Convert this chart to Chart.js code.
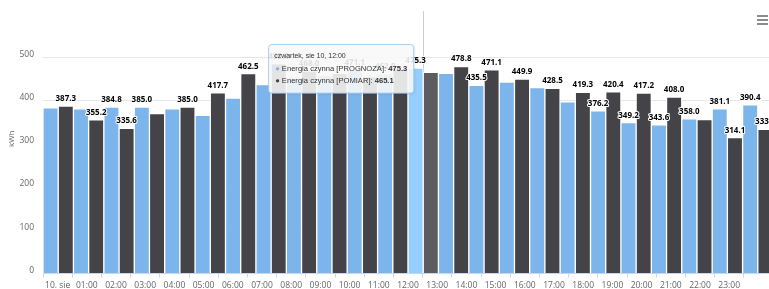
<!DOCTYPE html>
<html><head><meta charset="utf-8">
<script src="https://cdn.jsdelivr.net/npm/chart.js@4.4.1/dist/chart.umd.min.js"></script>
<style>
html,body{margin:0;padding:0;background:#fff;overflow:hidden;width:769px;height:289px}
#wrap{position:relative;width:790px;height:289px}
</style></head><body>
<div id="wrap"><canvas id="c" width="790" height="289"></canvas></div>
<script>
const HOURS = ['00:00','01:00','02:00','03:00','04:00','05:00','06:00','07:00','08:00','09:00','10:00','11:00','12:00','13:00','14:00','15:00','16:00','17:00','18:00','19:00','20:00','21:00','22:00','23:00'];
const X_TICK_LABELS = ['10. sie','01:00','02:00','03:00','04:00','05:00','06:00','07:00','08:00','09:00','10:00','11:00','12:00','13:00','14:00','15:00','16:00','17:00','18:00','19:00','20:00','21:00','22:00','23:00'];
const Y_TICKS = [0,100,200,300,400,500];
const PROGNOZA = [383,381,384.8,385.0,381,366,405.7,437,452,458,471.1,462,475.3,463,435.5,442.7,430,397,376.2,349.2,343.6,358.0,381.1,390.4];
const POMIAR   = [387.3,355.2,335.6,370,385.0,417.7,462.5,485,468,463,455,472,465.1,478.8,471.1,449.9,428.5,419.3,420.4,417.2,408.0,356,314.1,333.5];
const SERIES_NAMES = ['Energia czynna [PROGNOZA]','Energia czynna [POMIAR]'];
const TOOLTIP_TITLE = 'czwartek, sie 10, 12:00';
const ACTIVE_INDEX = 12;
const Y_TITLE = 'kWh';

const FONT = '"Open Sans", "Liberation Sans", sans-serif';
const TT_FONT = '"Liberation Sans", Arial, sans-serif';
const COLORS = ['#7cb5ec','#434348'];
const HOVER = ['#95ceff','#5c5c61'];

const extrasPlugin = {
  id:'extras',
  beforeDatasetsDraw(chart){
    const ctx = chart.ctx, a = chart.chartArea;
    const x = chart.scales.x.getPixelForValue(ACTIVE_INDEX);
    ctx.save();
    ctx.strokeStyle = '#cccccc'; ctx.lineWidth = 1;
    ctx.beginPath(); ctx.moveTo(Math.round(x)+0.5, a.top - 3); ctx.lineTo(Math.round(x)+0.5, a.bottom); ctx.stroke();
    ctx.restore();
  },
  afterDatasetsDraw(chart){
    const ctx = chart.ctx;
    const items = [];
    chart.data.datasets.forEach((ds, di) => {
      const meta = chart.getDatasetMeta(di);
      meta.data.forEach((bar, i) => {
        const v = ds.data[i];
        items.push({x: bar.x, y: bar.y, v, text: v.toFixed(1)});
      });
    });
    ctx.save();
    ctx.font = 'bold 8px ' + FONT;
    items.forEach(it => { it.w = ctx.measureText(it.text).width; });
    const sorted = items.slice().sort((p, q) => q.v - p.v);
    const shown = [];
    const H = 12.4;
    sorted.forEach(it => {
      const ok = shown.every(s => Math.abs(s.x - it.x) >= (s.w + it.w) / 2 || Math.abs(s.y - it.y) >= H);
      if (ok) shown.push(it);
    });
    ctx.textAlign = 'center'; ctx.textBaseline = 'alphabetic';
    ctx.lineJoin = 'round';
    shown.forEach(it => {
      ctx.strokeStyle = '#ffffff'; ctx.lineWidth = 2;
      ctx.strokeText(it.text, it.x, it.y - 5);
      ctx.fillStyle = '#000000';
      ctx.fillText(it.text, it.x, it.y - 5);
    });
    ctx.restore();
  },
  afterDraw(chart){
    const ctx = chart.ctx, a = chart.chartArea;
    ctx.save();
    ctx.translate(12, (a.top + a.bottom) / 2 - 5);
    ctx.rotate(-Math.PI/2);
    ctx.font = '8px ' + FONT; ctx.fillStyle = '#666666';
    ctx.textAlign = 'center'; ctx.textBaseline = 'middle';
    ctx.fillText(Y_TITLE, 0, 0);
    ctx.restore();

    ctx.save();
    ctx.strokeStyle = '#666666'; ctx.lineWidth = 1.5;
    [16, 20, 24].forEach(y => { ctx.beginPath(); ctx.moveTo(757, y); ctx.lineTo(768, y); ctx.stroke(); });
    ctx.restore();

    const xs = chart.scales.x.getPixelForValue(ACTIVE_INDEX);
    ctx.save();
    const titleFont = '7px ' + TT_FONT, rowFont = '7.6px ' + TT_FONT, boldFont = 'bold 7.6px ' + TT_FONT;
    const rows = chart.data.datasets.map((ds, i) => ({name: ds.label + ': ', val: ds.data[ACTIVE_INDEX].toFixed(1), color: COLORS[i]}));
    ctx.font = titleFont;
    let w = ctx.measureText(TOOLTIP_TITLE).width;
    rows.forEach(r => {
      ctx.font = rowFont; const w1 = ctx.measureText('● ' + r.name).width;
      ctx.font = boldFont; const w2 = ctx.measureText(r.val).width;
      w = Math.max(w, w1 + w2);
    });
    const bw = w + 13, bh = 48.5;
    const bx = xs - 10 - bw, by = a.top + 30;
    ctx.beginPath();
    ctx.roundRect(bx + 0.5, by + 0.5, bw, bh, 3);
    ctx.shadowColor = 'rgba(0,0,0,0.12)'; ctx.shadowOffsetX = 1; ctx.shadowOffsetY = 1; ctx.shadowBlur = 3;
    ctx.fillStyle = 'rgba(252,252,252,0.88)';
    ctx.fill();
    ctx.shadowColor = 'transparent';
    ctx.strokeStyle = '#a9cdef'; ctx.lineWidth = 1; ctx.stroke();
    ctx.textBaseline = 'middle'; ctx.textAlign = 'left';
    ctx.font = titleFont; ctx.fillStyle = '#333333';
    ctx.fillText(TOOLTIP_TITLE, bx + 6, by + 12);
    rows.forEach((r, i) => {
      const y = by + 24.5 + i * 12;
      ctx.font = rowFont;
      ctx.fillStyle = r.color; ctx.fillText('●', bx + 7, y);
      const bw0 = ctx.measureText('● ').width;
      ctx.fillStyle = '#333333'; ctx.fillText(r.name, bx + 7 + bw0, y);
      const nw = ctx.measureText(r.name).width;
      ctx.font = boldFont; ctx.fillText(r.val, bx + 7 + bw0 + nw, y);
    });
    ctx.restore();
  }
};

new Chart(document.getElementById('c'), {
  type: 'bar',
  data: {
    labels: HOURS,
    datasets: [
      {label: SERIES_NAMES[0], data: PROGNOZA, backgroundColor: c => c.dataIndex === ACTIVE_INDEX ? HOVER[0] : COLORS[0], borderColor: '#ffffff', borderWidth: 1, xAxisID: 'x', yAxisID: 'y'},
      {label: SERIES_NAMES[1], data: POMIAR, backgroundColor: c => c.dataIndex === ACTIVE_INDEX ? HOVER[1] : COLORS[1], borderColor: '#ffffff', borderWidth: 1, xAxisID: 'x', yAxisID: 'y'}
    ]
  },
  options: {
    responsive: false, animation: false, events: [],
    layout: {padding: {left: 0, right: 17, top: 13.5, bottom: 0}},
    datasets: {bar: {categoryPercentage: 1, barPercentage: 1}},
    plugins: {legend: {display: false}, tooltip: {enabled: false}},
    scales: {
      x: {type: 'category', display: false, offset: true},
      x2: {
        type: 'linear', position: 'bottom', min: 0, max: 24,
        afterFit: s => { s.height = 15.5; },
        afterBuildTicks: s => { s.ticks = X_TICK_LABELS.map((_, i) => ({value: i})).concat([{value: 24}]); },
        ticks: {autoSkip: false, maxRotation: 0, minRotation: 0, padding: 3, color: '#666666', font: {family: FONT, size: 8.5},
          callback: v => X_TICK_LABELS[v] !== undefined ? X_TICK_LABELS[v] : ''},
        grid: {display: true, drawOnChartArea: false, drawTicks: true, tickLength: 4, color: '#ccd6eb'},
        border: {display: true, color: '#ccd6eb'}
      },
      y: {
        min: 0, max: 600,
        afterFit: s => { s.width = 43; },
        afterBuildTicks: s => { s.ticks = Y_TICKS.map(v => ({value: v})).concat([{value: 600}]); },
        ticks: {padding: 9, labelOffset: -3, color: '#666666', font: {family: FONT, size: 8.5},
          callback: v => Y_TICKS.includes(v) ? String(v) : ''},
        grid: {drawTicks: false, color: c => (c.tick && c.tick.value === 600) ? 'rgba(0,0,0,0)' : '#e6e6e6'},
        border: {display: false}
      }
    }
  },
  plugins: [extrasPlugin]
});
</script>
</body></html>
